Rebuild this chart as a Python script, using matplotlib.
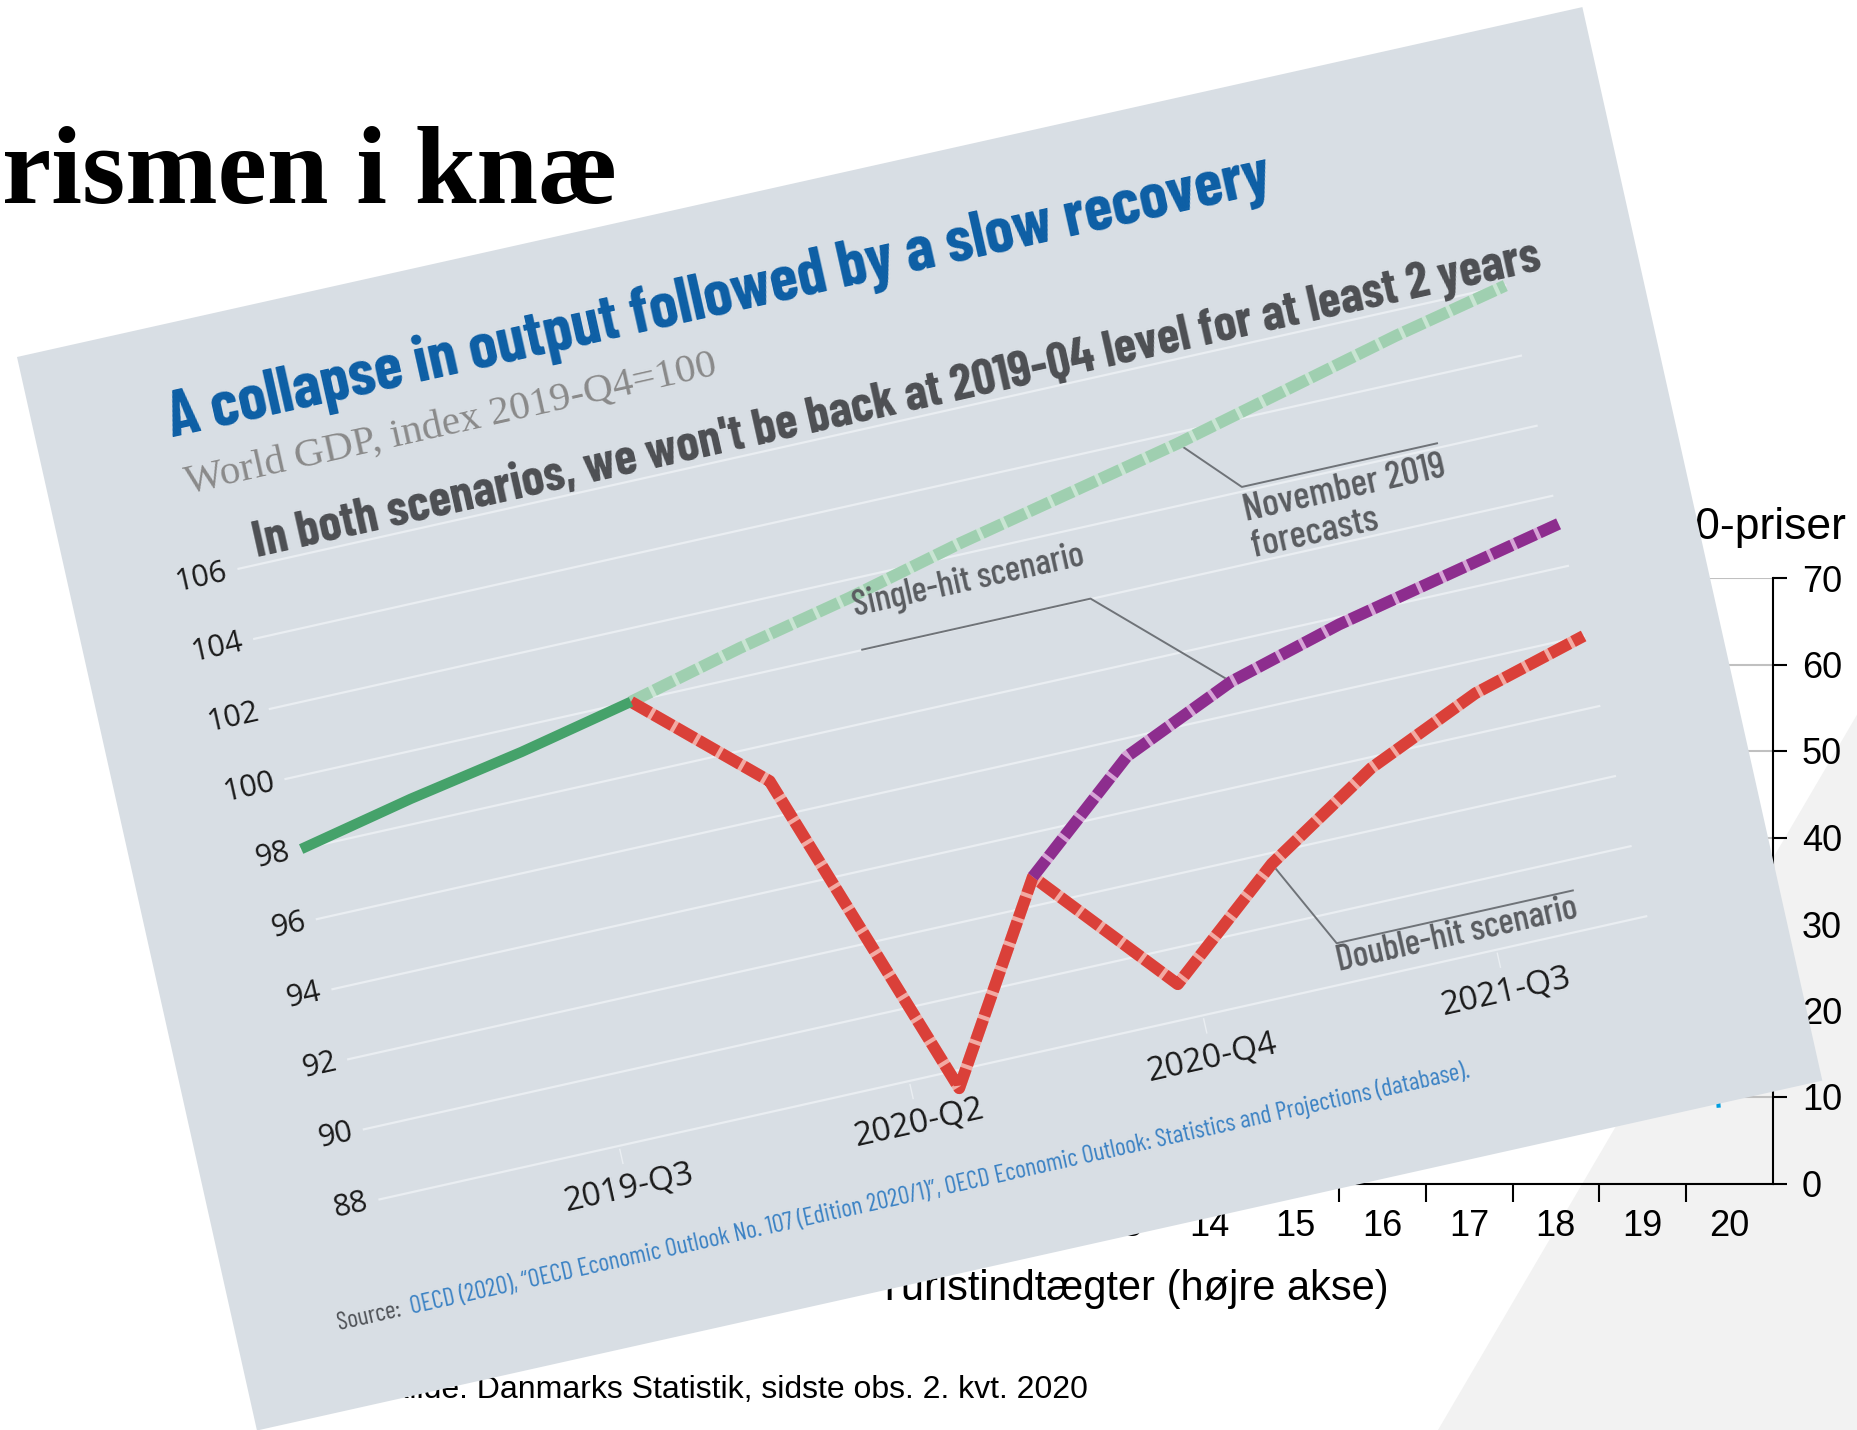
import numpy as np
import matplotlib.pyplot as plt
from matplotlib.transforms import Affine2D
from matplotlib.patches import Polygon

# OECD chart: World GDP, index 2019-Q4 = 100 (quarter index 0 = 2019-Q1)
quarters = ['2019-Q1', '2019-Q2', '2019-Q3', '2019-Q4', '2020-Q1', '2020-Q2',
            '2020-Q3', '2020-Q4', '2021-Q1', '2021-Q2', '2021-Q3', '2021-Q4']
actual = [98.0, 98.7, 99.3, 100.0]                                        # 2019-Q1..Q4
nov2019 = [100.0, 100.8, 101.5, 102.3, 103.0, 103.7, 104.5, 105.3, 106.0]   # 2019-Q4..2021-Q4
double_hit = [100.0, 97.0, 87.5, 92.8, 89.0, 91.7, 93.7, 95.1, 96.0]        # 2019-Q4..2021-Q4
single_hit = [92.8, 95.5, 96.9, 97.8, 98.5, 99.2]                           # 2020-Q3..2021-Q4
gdp_ticks = list(range(88, 107, 2))
q_labels = ['2019-Q3', '2020-Q2', '2020-Q4', '2021-Q3']
q_label_pos = [2.08, 4.6, 7.15, 9.7]

# Danish chart behind it
dk_years = list(range(2007, 2021))
dk_ticks = list(range(0, 71, 10))
tour_t = [2020.125, 2020.375]
tour_val = [40, 9]

W, H = 1858, 1430
fig = plt.figure(figsize=(W / 100, H / 100), dpi=100)
renderer = fig.canvas.get_renderer()

bg = fig.add_axes([0, 0, 1, 1], zorder=0)
bg.set_xlim(0, W)
bg.set_ylim(H, 0)
bg.axis('off')
bg.add_patch(Polygon([(1858, 713), (1438, 1430), (1858, 1430)], fc='#f2f2f2', ec='none'))

ARIAL = ['Liberation Sans', 'DejaVu Sans']
L, R, T, B = 558.25, 1772.75, 578, 1183.5
dk = fig.add_axes([L / W, 1 - B / H, (R - L) / W, (B - T) / H], zorder=1)
dk.patch.set_alpha(0)
dk.set_xlim(2007, 2021)
dk.set_ylim(0, 70)
dk.yaxis.tick_right()
dk.spines['top'].set_visible(False)
dk.spines['left'].set_visible(False)
dk.spines['right'].set_linewidth(1.5)
dk.spines['bottom'].set_linewidth(1.5)
dk.set_yticks(dk_ticks)
dk.set_yticklabels([str(t) for t in dk_ticks], family=ARIAL, fontsize=26)
dk.tick_params(axis='y', direction='out', length=10, width=1.5, pad=11)
dk.set_xticks(range(2008, 2021))
dk.set_xticklabels([])
dk.set_xticks([y + 0.5 for y in dk_years], minor=True)
dk.set_xticklabels([f'{y % 100:02d}' for y in dk_years], minor=True, family=ARIAL, fontsize=26)
dk.tick_params(axis='x', which='major', direction='out', length=13, width=1.5)
dk.tick_params(axis='x', which='minor', length=0, pad=18)
dk.grid(axis='y', color='#c0c0c0', lw=1.5)
dk.set_axisbelow(True)
dk.plot(tour_t, tour_val, color='#009ee0', lw=3)

bg.text(1846, 527, 'Mia. kr., 2010-priser', ha='right', va='center', fontsize=32, family=ARIAL)
bg.text(1389, 1289, 'Turistindtægter (højre akse)', ha='right', va='center', fontsize=30, family=ARIAL)
bg.text(1088, 1390, 'Kilde: Danmarks Statistik, sidste obs. 2. kvt. 2020', ha='right', va='center',
        fontsize=23, family=ARIAL)

top = fig.add_axes([0, 0, 1, 1], zorder=2)
top.set_xlim(0, W)
top.set_ylim(H, 0)
top.axis('off')


def fit(texts, target, ang=0):
    for t in texts:
        t.set_rotation(0)
    w = sum(t.get_window_extent(renderer).width for t in texts)
    for t in texts:
        t.set_fontsize(t.get_fontsize() * target / w)
        t.set_rotation(ang)


title = top.text(2, 203, 'rismen i knæ', family='Liberation Serif', weight='bold', fontsize=80,
                 ha='left', va='baseline')
fit([title], 616)

# rotated OECD panel
ANG = 12.6
loc = Affine2D().rotate_deg(-ANG).translate(17, 357) + top.transData
U0, DU, V0, DV = 170, 118, 255, 35.9
dat = Affine2D().scale(DU, -DV).translate(U0, V0 + 106 * DV) + loc


def to_data(u, v):
    return (u - U0) / DU, 106 - (v - V0) / DV


COND = ['Barlow Condensed', 'Roboto Condensed', 'DejaVu Sans']


def ltext(u, v, s, **kw):
    kw.setdefault('ha', 'left')
    kw.setdefault('va', 'baseline')
    kw.setdefault('family', COND)
    return top.text(u, v, s, transform=loc, rotation=ANG, rotation_mode='anchor', zorder=6, **kw)


top.add_patch(Polygon([(0, 0), (1604, 0), (1604, 1100), (0, 1100)], transform=loc,
                      fc='#d8dee4', ec='none', zorder=1))

for g in gdp_ticks:
    top.plot([0, 11], [g, g], transform=dat, color='#eaeef2', lw=1.6, zorder=2)
    top.text(-0.1, g, str(g), transform=dat, rotation=ANG, rotation_mode='anchor', ha='right',
             va='center', fontsize=22, family='Open Sans', color='#1a1a1a', zorder=6)

for p, lab in zip(q_label_pos, q_labels):
    top.plot([p, p], [87.9, 87.5], transform=dat, color='#eaeef2', lw=1, zorder=2)
    top.text(p, 86.8, lab, transform=dat, rotation=ANG, rotation_mode='anchor', ha='center',
             va='center', fontsize=24, family='Open Sans', color='#1a1a1a', zorder=6)

q = np.arange(len(quarters))


def dashed(x, y, col, gap):
    top.plot(x, y, color=gap, lw=8.5, transform=dat, solid_capstyle='butt',
             solid_joinstyle='round', zorder=4)
    top.plot(x, y, color=col, lw=8.5, dashes=(1.85, 0.35), dash_capstyle='butt',
             dash_joinstyle='round', transform=dat, zorder=4)


dashed(q[3:], nov2019, '#9fcfb0', '#c9e5d3')
top.plot(q[:4], actual, color='#45a26a', lw=7.5, solid_capstyle='butt', transform=dat, zorder=5)
dashed(q[3:], double_hit, '#da4039', '#f2aaa3')
dashed(q[6:], single_hit, '#8d2d8e', '#d6a4d6')

# leader lines from the 2021-Q1 points
LC = '#6f7378'
for series, first, pts in [(single_hit, 6, [(995, 470), (761, 470)]),
                           (nov2019, 3, [(1167, 394), (1367, 394)]),
                           (double_hit, 3, [(1160, 860), (1402, 860)])]:
    xs = [8] + [to_data(u, v)[0] for u, v in pts]
    ys = [series[8 - first]] + [to_data(u, v)[1] for u, v in pts]
    top.plot(xs, ys, transform=dat, color=LC, lw=1.4, zorder=3)

t1 = ltext(134, 111, 'A collapse in output followed by a slow recovery', color='#0d5fa5',
           weight='bold', fontsize=40)
fit([t1], 1128, ANG)
t2 = ltext(137, 170, 'World GDP, index 2019-Q4=100', color='#8a8a8a', family='Liberation Serif',
           fontsize=28)
fit([t2], 543, ANG)
t3 = ltext(190, 248, "In both scenarios, we won't be back at 2019-Q4 level for at least 2 years",
           color='#4d4f53', weight='bold', fontsize=30)
fit([t3], 1318, ANG)
a1 = ltext(762, 436, 'Single-hit scenario', color='#5a5c60', weight='medium', fontsize=18)
fit([a1], 237, ANG)
a2 = ltext(1164, 428, 'November 2019', color='#5a5c60', weight='medium', fontsize=18)
fit([a2], 206, ANG)
a3 = ltext(1164, 465, 'forecasts', color='#5a5c60', weight='medium', fontsize=a2.get_fontsize())
a4 = ltext(1156, 888, 'Double-hit scenario', color='#5a5c60', weight='medium', fontsize=18)
fit([a4], 247, ANG)

s1 = ltext(102, 1020, 'Source:', color='#4e5156', fontsize=14)
s2 = ltext(102, 1020, '  OECD (2020), \u201cOECD Economic Outlook No. 107 (Edition 2020/1)\u201d, '
           'OECD Economic Outlook: Statistics and Projections (database).',
           color='#3b82c4', fontsize=14)
fit([s1, s2], 1159, ANG)
s1.set_rotation(0)
w1 = s1.get_window_extent(renderer).width
s1.set_rotation(ANG)
s2.set_position((102 + w1, 1020))

fig.savefig('out.png', dpi=100)
